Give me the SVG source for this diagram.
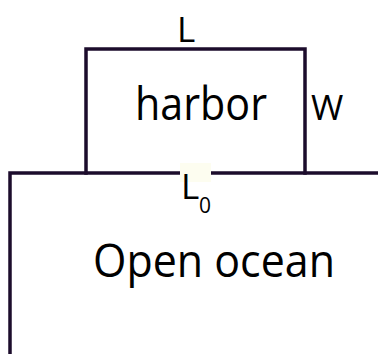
<svg xmlns="http://www.w3.org/2000/svg" width="378" height="354" viewBox="0 0 378 354">
<style>
.ln{fill:none;stroke:#1c0c2c;stroke-width:3.5;stroke-linecap:square}
.t{font-family:"Open Sans","Noto Sans",sans-serif;fill:#000}
</style>
<rect width="378" height="354" fill="#fff"/>
<g id="ocean">
<polyline class="ln" points="380,173 10,173 10,356"/>
<text class="t" x="93" y="277" font-size="46" textLength="242" lengthAdjust="spacingAndGlyphs">Open ocean</text>
</g>
<g id="harbor">
<polyline class="ln" points="86,173 86,49 305,49 305,173"/>
<text class="t" x="135" y="120" font-size="46" textLength="132" lengthAdjust="spacingAndGlyphs">harbor</text>
</g>
<g id="labels">
<text class="t" x="177" y="42" font-size="35">L</text>
<text class="t" x="311" y="120" font-size="35">W</text>
<rect x="180" y="163" width="31" height="19" fill="#fdfdf0"/>
<text class="t" x="181" y="199" font-size="35">L</text>
<text class="t" x="199" y="213" font-size="21">0</text>
</g>
</svg>
